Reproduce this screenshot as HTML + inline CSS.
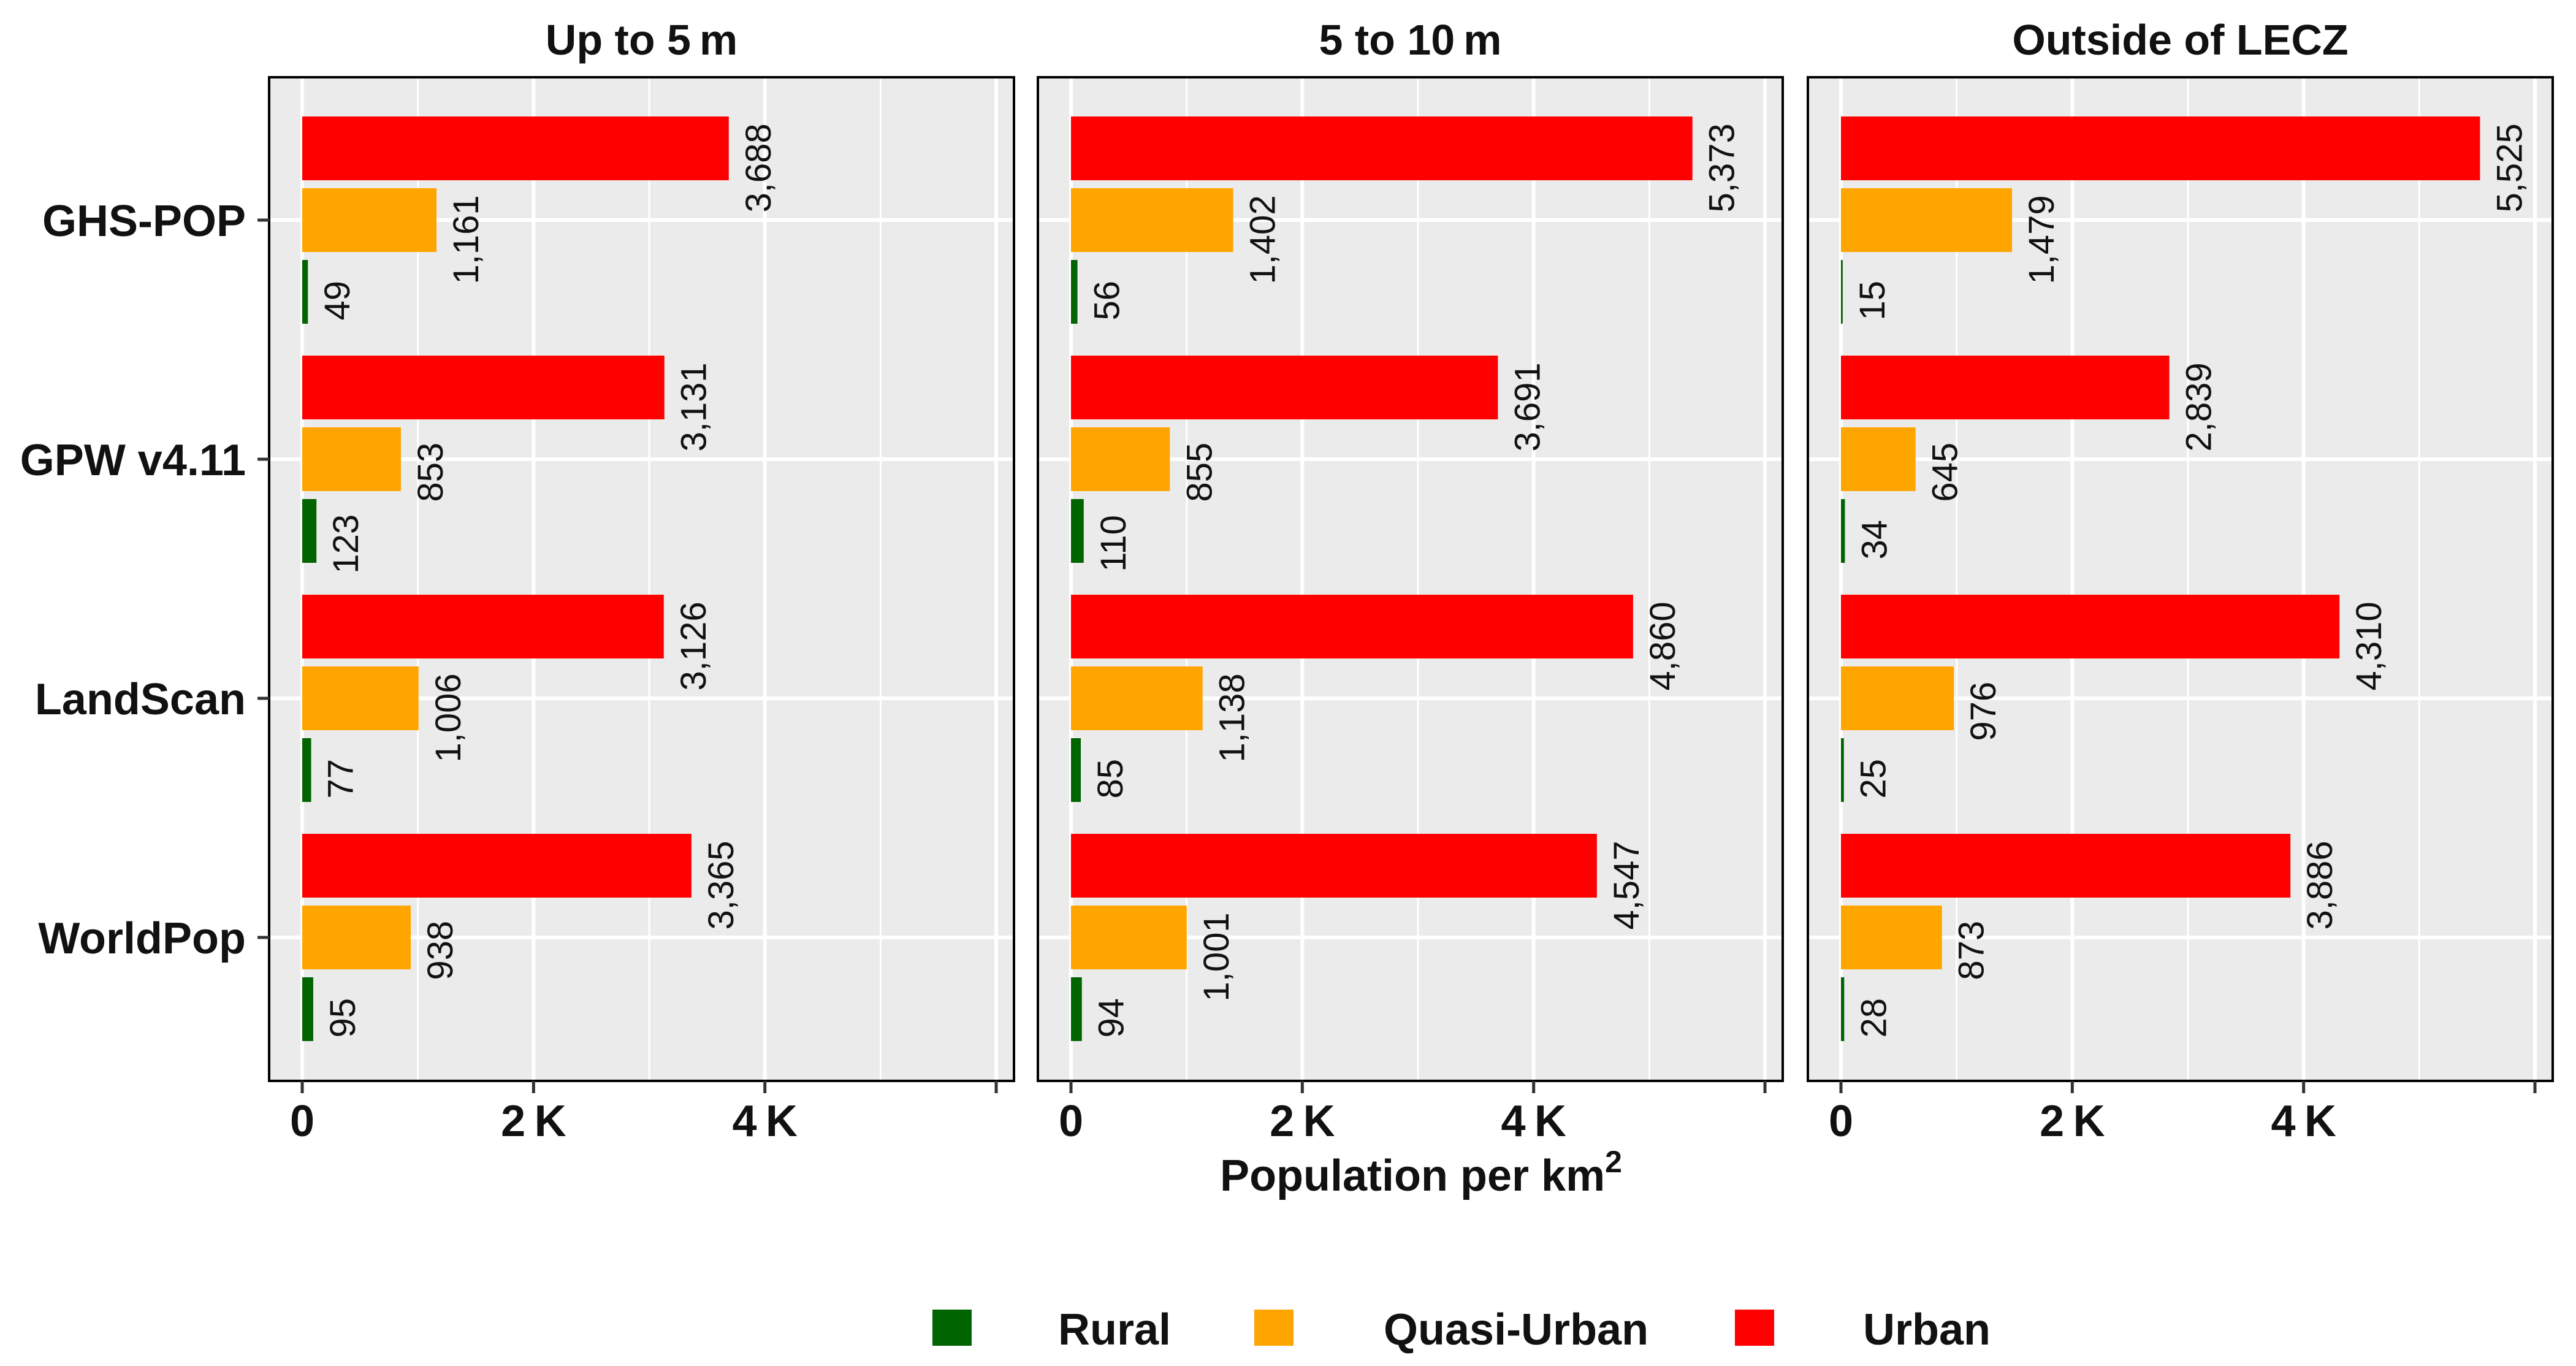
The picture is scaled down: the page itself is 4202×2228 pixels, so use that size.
<!DOCTYPE html>
<html><head><meta charset="utf-8"><style>
html,body{margin:0;padding:0;background:#fff;}
svg{display:block;font-family:"Liberation Sans",Arial,sans-serif;}
</style></head>
<body>
<svg id="chart" width="4202" height="2228" viewBox="0 0 4202 2228" xmlns="http://www.w3.org/2000/svg">
<rect x="0" y="0" width="4202" height="2228" fill="#fff"/>
<g id="panels"></g>
<text x="2318" y="1942" font-size="72" font-weight="bold" text-anchor="middle" fill="#111">Population per km<tspan font-size="50" dy="-30">2</tspan></text>
<g>
<rect x="1521" y="2136" width="64" height="59" fill="#006400"/>
<text x="1726" y="2193" font-size="72" font-weight="bold" fill="#111">Rural</text>
<rect x="2046" y="2136" width="64" height="59" fill="#FFA500"/>
<text x="2257" y="2193" font-size="72" font-weight="bold" fill="#111">Quasi-Urban</text>
<rect x="2830" y="2136" width="64" height="59" fill="#FF0000"/>
<text x="3039" y="2193" font-size="72" font-weight="bold" fill="#111">Urban</text>
</g>
</svg>
<script>
const facets = ["Up to 5\u2009m", "5 to 10\u2009m", "Outside of LECZ"];
const datasets = ["GHS-POP", "GPW v4.11", "LandScan", "WorldPop"];
const urban = [[3688,3131,3126,3365],[5373,3691,4860,4547],[5525,2839,4310,3886]];
const quasi = [[1161,853,1006,938],[1402,855,1138,1001],[1479,645,976,873]];
const rural = [[49,123,77,95],[56,110,85,94],[15,34,25,28]];
const xTicks = [0,2000,4000,6000];
const xTickLabels = ["0","2\u2009K","4\u2009K",""];
const xMinor = [1000,3000,5000];

const NS = "http://www.w3.org/2000/svg";
const panelsG = document.getElementById("panels");
const panelLefts = [439,1693,2949];
const panelW = 1215, panelTop = 126, panelBottom = 1763;
const pxPerUnit = 0.18867;
function xScale(p, v){ return panelLefts[p] + 54 + v*pxPerUnit; }
function yScale(i){ return 359 + i*390; }
function fmt(v){ return String(v).replace(/\B(?=(\d{3})+(?!\d))/g, ","); }
function el(tag, attrs, parent){
  const e = document.createElementNS(NS, tag);
  for (const k in attrs) e.setAttribute(k, attrs[k]);
  parent.appendChild(e);
  return e;
}
const series = [
  {vals: urban, color:"#FF0000", off:-117, key:"urban"},
  {vals: quasi, color:"#FFA500", off:0, key:"quasi-urban"},
  {vals: rural, color:"#006400", off:117, key:"rural"}
];
facets.forEach((f, p) => {
  const L = panelLefts[p];
  const pg = el("g", {}, panelsG);
  
  
  const bg = el("rect", {x:L, y:panelTop, width:panelW, height:panelBottom-panelTop, fill:"#EBEBEB"}, pg);
  
  
  xMinor.forEach(v => {
    const ln = el("line", {x1:xScale(p,v), x2:xScale(p,v), y1:panelTop, y2:panelBottom, stroke:"#fff", "stroke-width":3}, pg);
    
    
  });
  xTicks.forEach(v => {
    const ln = el("line", {x1:xScale(p,v), x2:xScale(p,v), y1:panelTop, y2:panelBottom, stroke:"#fff", "stroke-width":6}, pg);
    
    
  });
  datasets.forEach((d, i) => {
    const ln = el("line", {x1:L, x2:L+panelW, y1:yScale(i), y2:yScale(i), stroke:"#fff", "stroke-width":6}, pg);
    
    
  });
  series.forEach(s => {
    datasets.forEach((d, i) => {
      const v = s.vals[p][i];
      const x0 = xScale(p,0), x1 = xScale(p,v);
      const yC = yScale(i) + s.off;
      const r = el("rect", {x:x0, y:yC-52, width:Math.max(x1-x0,1), height:104, fill:s.color}, pg);
      
      
      const t = el("text", {"font-size":58, "text-anchor":"start", fill:"#111"}, pg);
      t.textContent = fmt(v);
      
      
      let len = 0;
      try { len = t.getComputedTextLength(); } catch(e) {}
      if (!len) len = t.textContent.length * 30;
      t.setAttribute("transform", "translate(" + (x1+68) + "," + (yC + 0.72*len) + ") rotate(-90)");
    });
  });
  const border = el("rect", {x:L, y:panelTop, width:panelW, height:panelBottom-panelTop, fill:"none", stroke:"#000", "stroke-width":4}, pg);
  
  
  const title = el("text", {x:L+panelW/2, y:89, "font-size":70, "font-weight":"bold", "text-anchor":"middle", fill:"#111"}, pg);
  title.textContent = f;
  
  
  xTicks.forEach((v, k) => {
    const tk = el("line", {x1:xScale(p,v), x2:xScale(p,v), y1:panelBottom, y2:1783, stroke:"#333", "stroke-width":5}, pg);
    
    
    const tl = el("text", {x:xScale(p,v), y:1853, "font-size":72, "font-weight":"bold", "text-anchor":"middle", fill:"#111"}, pg);
    tl.textContent = xTickLabels[k];
    
    
  });
});
datasets.forEach((d, i) => {
  const tk = el("line", {x1:420, x2:439, y1:yScale(i), y2:yScale(i), stroke:"#333", "stroke-width":5}, panelsG);
  
  
  const t = el("text", {x:401, y:yScale(i)+26, "font-size":72, "font-weight":"bold", "text-anchor":"end", fill:"#111"}, panelsG);
  t.textContent = d;
  
  
});
</script>
</body></html>
